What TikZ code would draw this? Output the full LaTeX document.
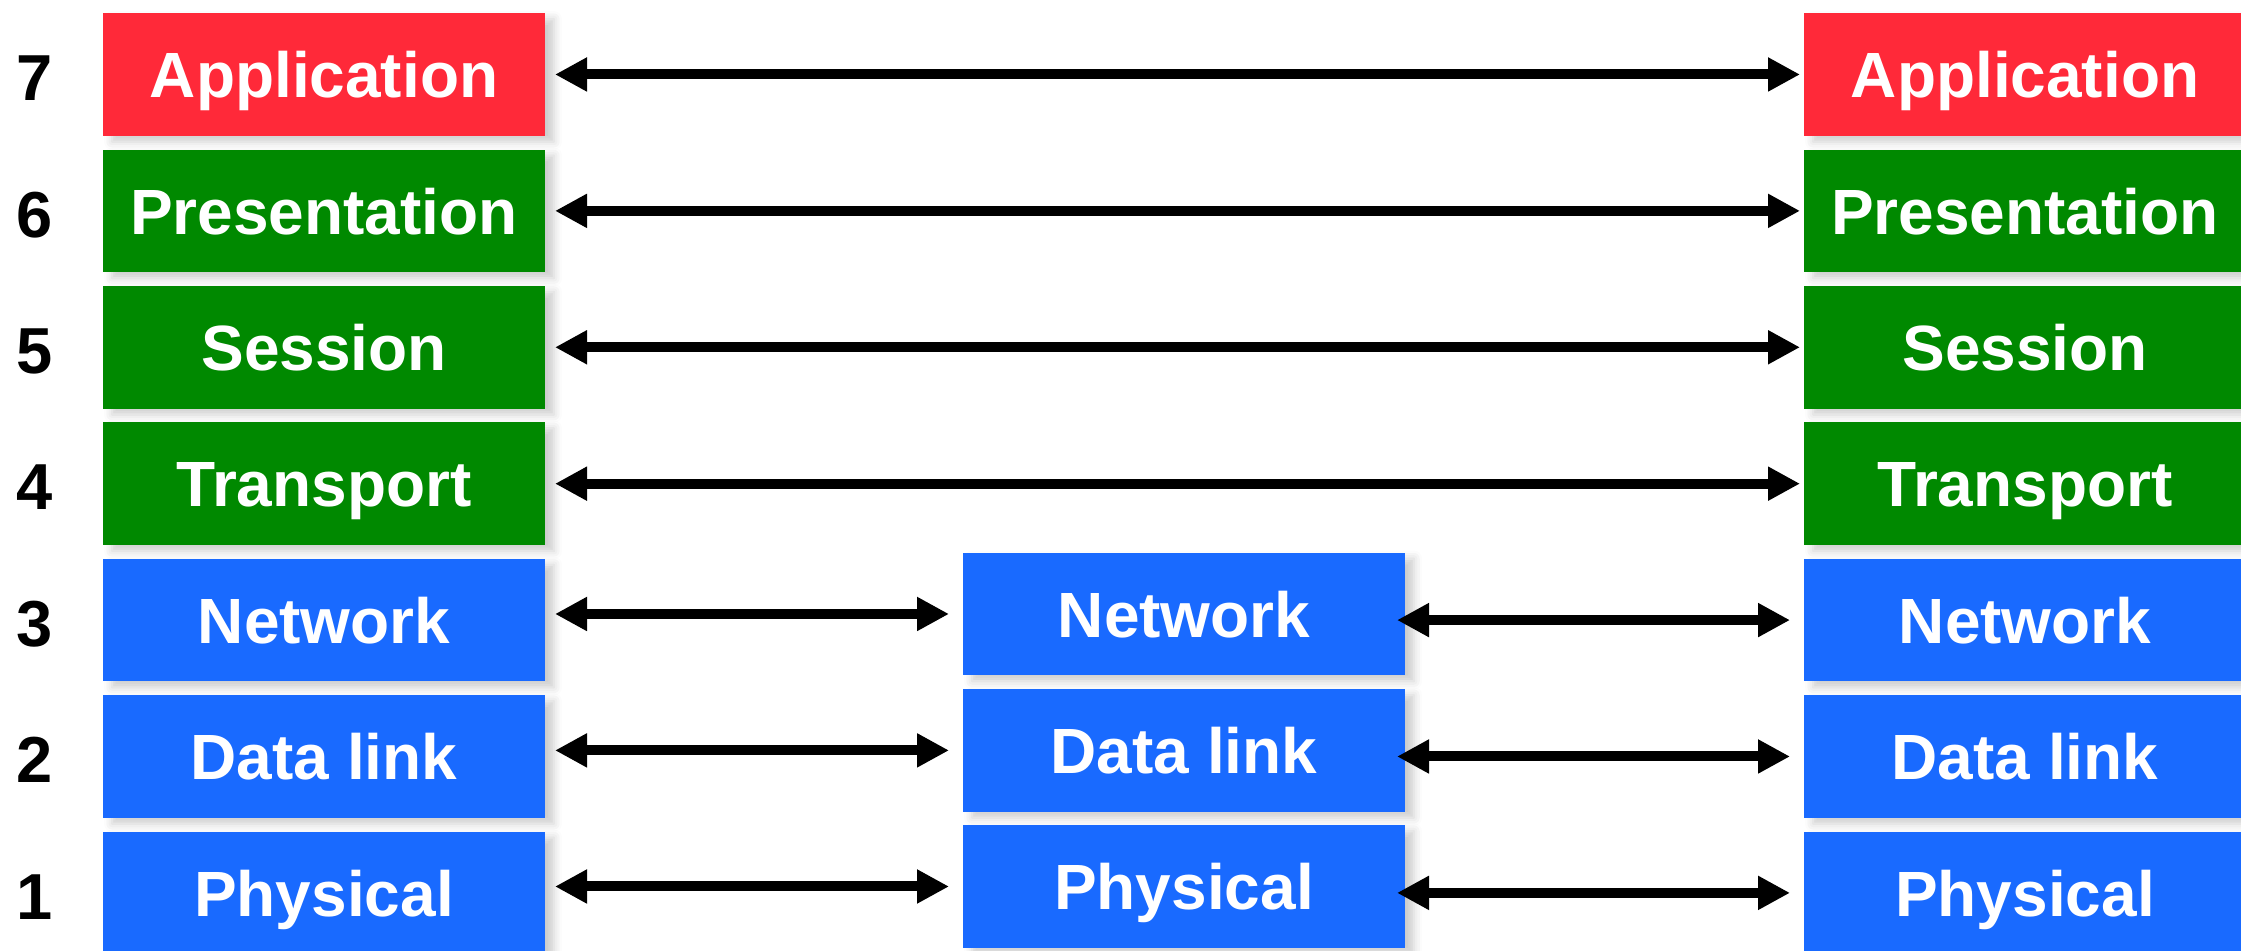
\documentclass[tikz,border=0pt]{standalone}
\usepackage{fontspec}
\setmainfont{Liberation Sans}
\usetikzlibrary{positioning,arrows.meta,shadows.blur}
\definecolor{appred}{RGB}{255,41,57}
\definecolor{layergreen}{RGB}{0,137,0}
\definecolor{layerblue}{RGB}{25,106,255}
\begin{document}
\begin{tikzpicture}[layer/.style={fill=#1,text=white,minimum width=4.42cm,minimum height=1.227cm,
    inner sep=0pt,outer sep=0pt,font=\fontsize{18.2}{20}\selectfont\bfseries,
    text height=13.2pt,text depth=0pt,
    blur shadow={shadow xshift=0.09cm,shadow yshift=-0.06cm,shadow blur radius=0.08cm,shadow opacity=20}},
  num/.style={font=\fontsize{18.5}{20}\selectfont\bfseries,text height=13.25pt,text depth=0pt,inner sep=0pt},
  link/.style={line width=0.1cm,{Triangle[length=0.32cm,width=0.32cm]}-{Triangle[length=0.32cm,width=0.32cm]}}]
\useasboundingbox (0,0) rectangle (22.41,9.51);
% host A
\node[layer=appred] (L7) at (3.24,8.765) {Application};
\node[layer=layergreen] (L6) at (3.24,7.401) {Presentation};
\node[layer=layergreen] (L5) at (3.24,6.037) {Session};
\node[layer=layergreen] (L4) at (3.24,4.673) {Transport};
\node[layer=layerblue] (L3) at (3.24,3.309) {Network};
\node[layer=layerblue] (L2) at (3.24,1.945) {Data link};
\node[layer=layerblue] (L1) at (3.24,0.581) {Physical};
% router
\node[layer=layerblue] (M3) at (11.84,3.37) {Network};
\node[layer=layerblue] (M2) at (11.84,2.006) {Data link};
\node[layer=layerblue] (M1) at (11.84,0.645) {Physical};
% host B
\node[layer=appred] (R7) at (20.25,8.765) {Application};
\node[layer=layergreen] (R6) at (20.25,7.401) {Presentation};
\node[layer=layergreen] (R5) at (20.25,6.037) {Session};
\node[layer=layergreen] (R4) at (20.25,4.673) {Transport};
\node[layer=layerblue] (R3) at (20.25,3.309) {Network};
\node[layer=layerblue] (R2) at (20.25,1.945) {Data link};
\node[layer=layerblue] (R1) at (20.25,0.581) {Physical};
% layer numbers
\node[num,left=0.495cm of L7,yshift=-0.03cm] (n7) {7};
\node[num,left=0.495cm of L6,yshift=-0.03cm] (n6) {6};
\node[num,left=0.495cm of L5,yshift=-0.03cm] (n5) {5};
\node[num,left=0.495cm of L4,yshift=-0.03cm] (n4) {4};
\node[num,left=0.495cm of L3,yshift=-0.03cm] (n3) {3};
\node[num,left=0.495cm of L2,yshift=-0.03cm] (n2) {2};
\node[num,left=0.495cm of L1,yshift=-0.03cm] (n1) {1};
% peer links
\draw[link,shorten <=0.1cm,shorten >=0.04cm] (L7) -- (R7);
\draw[link,shorten <=0.1cm,shorten >=0.04cm] (L6) -- (R6);
\draw[link,shorten <=0.1cm,shorten >=0.04cm] (L5) -- (R5);
\draw[link,shorten <=0.1cm,shorten >=0.04cm] (L4) -- (R4);
\draw[link,shorten <=0.1cm,shorten >=0.14cm] (L3.east |- M3) -- (M3.west);
\draw[link,shorten <=0.1cm,shorten >=0.14cm] (L2.east |- M2) -- (M2.west);
\draw[link,shorten <=0.1cm,shorten >=0.14cm] (L1.east |- M1) -- (M1.west);
\draw[link,shorten <=-0.08cm,shorten >=0.14cm] (M3.east |- R3) -- (R3.west);
\draw[link,shorten <=-0.08cm,shorten >=0.14cm] (M2.east |- R2) -- (R2.west);
\draw[link,shorten <=-0.08cm,shorten >=0.14cm] (M1.east |- R1) -- (R1.west);
\end{tikzpicture}
\end{document}
